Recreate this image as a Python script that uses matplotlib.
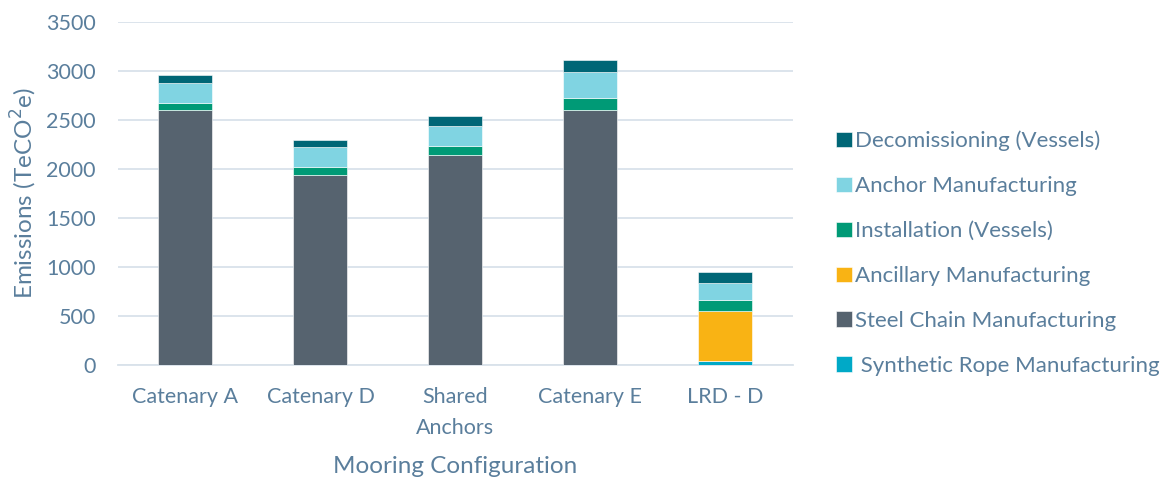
import matplotlib
matplotlib.use("Agg")
import matplotlib.pyplot as plt
import numpy as np

categories = ["Catenary A", "Catenary D", "Shared\nAnchors", "Catenary E", "LRD - D"]
synthetic_rope = [0, 0, 0, 0, 40]
steel_chain = [2600, 1940, 2145, 2600, 0]
ancillary = [0, 0, 0, 0, 510]
installation = [75, 80, 90, 123, 112]
anchor = [200, 200, 205, 268, 177]
decommissioning = [80, 78, 100, 125, 112]

series_labels = [" Synthetic Rope Manufacturing", "Steel Chain Manufacturing",
                 "Ancillary Manufacturing", "Installation (Vessels)",
                 "Anchor Manufacturing", "Decomissioning (Vessels)"]
series_values = [synthetic_rope, steel_chain, ancillary, installation, anchor, decommissioning]
colors = ["#00A9C7", "#56636F", "#F9B314", "#009A76", "#80D4E2", "#006676"]

TXT = "#5A7E9C"
GRID = "#D9E2EA"
plt.rcParams['font.family'] = ['Lato', 'DejaVu Sans']

fig = plt.figure(figsize=(11.61, 4.79), dpi=100)
ax = fig.add_axes([0.1016, 0.238, 0.5814, 0.716])

x = np.arange(len(categories))
bottom = np.zeros(len(categories))
handles = []
for lab, vals, c in zip(series_labels, series_values, colors):
    v = np.array(vals, dtype=float)
    b = ax.bar(x, v, 0.4, bottom=bottom, color=c, label=lab, zorder=3,
               edgecolor="#FFFFFF", linewidth=0.4)
    handles.append(b)
    bottom += v

ax.set_xlim(-0.5, 4.5)
ax.set_ylim(0, 3500)
ax.set_yticks(np.arange(0, 3501, 500))
ax.grid(axis='y', color=GRID, linewidth=1.3, zorder=0)
for s in ["top", "right", "left"]:
    ax.spines[s].set_visible(False)
ax.spines["bottom"].set_color(GRID)
ax.spines["bottom"].set_linewidth(1.3)
ax.tick_params(axis='both', length=0, labelsize=15.5, colors=TXT)
ax.tick_params(axis='y', pad=16)
ax.tick_params(axis='x', pad=16)
ax.set_xticks(x)
ax.set_xticklabels(categories, linespacing=1.65)
ax.set_ylabel("Emissions (TeCO$^{2}$e)", fontsize=17.5, color=TXT, labelpad=5)
ax.set_xlabel("Mooring Configuration", fontsize=17.5, color=TXT, labelpad=13)

leg = fig.legend(handles[::-1], series_labels[::-1], loc="center left",
                 bbox_to_anchor=(0.703, 0.471), frameon=False, fontsize=16,
                 labelcolor=TXT, handlelength=0.7, handleheight=0.7,
                 handletextpad=0.15, labelspacing=1.12)

fig.savefig("out.png", dpi=100)
